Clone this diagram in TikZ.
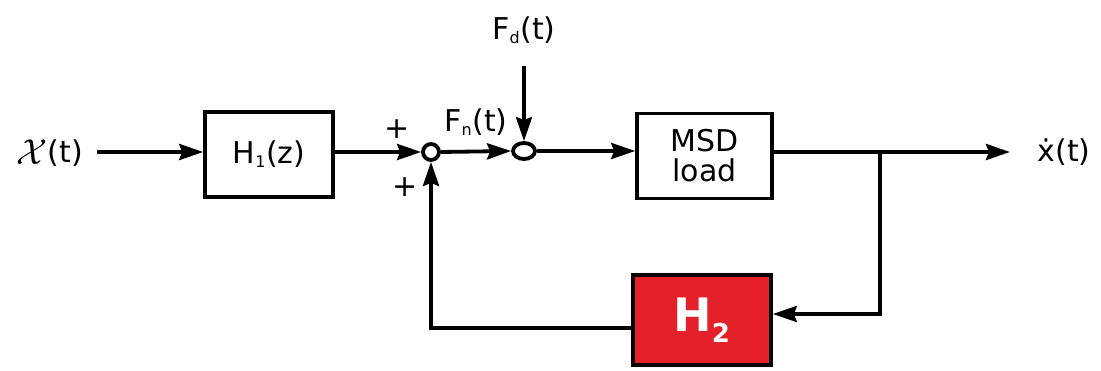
\documentclass[tikz,border=0pt]{standalone}
\usepackage{fontspec}
\setmainfont{DejaVu Sans}
\usetikzlibrary{arrows.meta,shapes.geometric}
\definecolor{hred}{HTML}{E42129}
\newcommand{\sbs}[1]{\textsubscript{\fontsize{16}{16}\selectfont #1}}
\begin{document}
\begin{tikzpicture}[x=1pt,y=-1pt,
  line width=3.8pt,
  arr/.style={-{Stealth[length=24pt,width=16pt,inset=3pt]}},
  blk/.style={draw,line width=3.6pt,minimum width=128pt,minimum height=85pt,inner sep=0pt,align=center,font=\fontsize{30}{33}\selectfont},
  lbl/.style={inner sep=0pt,font=\fontsize{30}{33}\selectfont},
  sumc/.style={draw,circle,line width=3.8pt,minimum size=16pt,inner sep=0pt},
  sume/.style={draw,ellipse,line width=3.8pt,minimum width=22pt,minimum height=16pt,inner sep=0pt}]
\useasboundingbox (0,0) rectangle (1101,371);
\fill[white] (0,0) rectangle (1101,371);
% labels
\node[lbl] (in) at (50,153) {\raisebox{-2pt}{\scalebox{1.45}{$\mathcal{X}$}}(t)};
\node[lbl] (fd) at (524,30) {F\sbs{d}(t)};
\node[lbl] (fn) at (476,122) {F\sbs{n}(t)};
\node[lbl] (out) at (1064,152) {ẋ(t)};
\node[lbl] (p1) at (397,129) {+};
\node[lbl] (p2) at (405,187) {+};
% blocks
\node[blk] (h1) at (269,154.5) {H\sbs{1}(z)};
\node[blk,minimum width=135pt] (msd) at (704.5,156) {MSD\\[-3pt]load};
\node[blk,fill=hred,minimum width=138pt,minimum height=90pt,text=white,font=\bfseries\fontsize{46}{50}\selectfont] (h2) at (702,320) {H\textsubscript{\fontsize{26}{26}\selectfont 2}};
% summing junctions
\node[sumc] (s1) at (431,152) {};
\node[sume] (s2) at (524,151) {};
% coordinates
\coordinate (inE) at (97,152);
\coordinate (fdS) at (524,66);
\coordinate (br) at (880,152);
\coordinate (outW) at (1010,152);
\coordinate (brD) at (880,314);
\coordinate (fbL) at (431,328);
% connectors
\draw[arr] (inE) -- (h1.west |- inE);
\draw[arr] (h1.east |- s1) -- (s1.west);
\draw[arr] (s1.east) -- (s2.west);
\draw[arr] (fdS) -- (s2.north);
\draw[arr] (s2.east) -- (msd.west |- s2);
\draw[arr] (msd.east |- br) -- (outW);
\draw[line cap=rect] (br) -- (brD);
\draw[arr] (brD) -- (h2.east |- brD);
\draw (h2.west |- fbL) -- (fbL);
\draw[arr,line cap=rect] (fbL) -- (s1.south);
\end{tikzpicture}
\end{document}
